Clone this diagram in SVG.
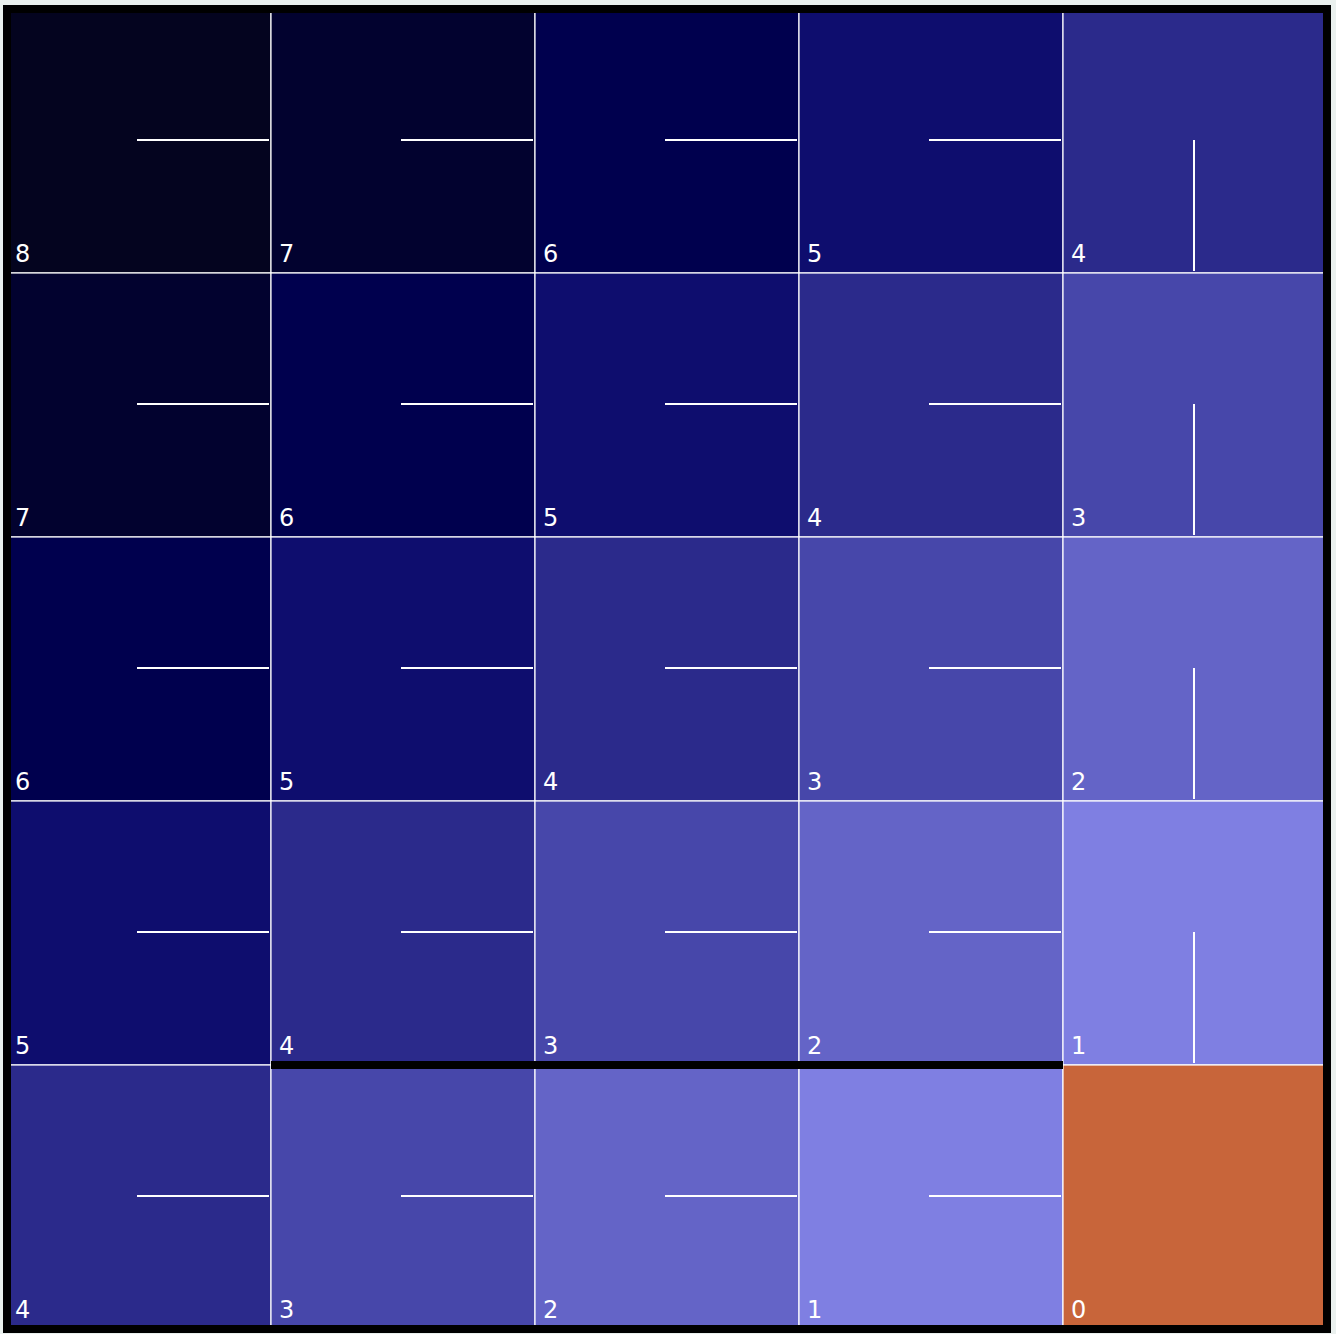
<svg xmlns="http://www.w3.org/2000/svg" width="1336" height="1334" viewBox="0 0 1336 1334">
<style>
.cell{stroke:#ffffff;stroke-width:1.2}
.pol{stroke:#ffffff;stroke-width:2;fill:none}
.lbl{font-family:"DejaVu Sans",sans-serif;font-size:24px;fill:#ffffff}
.d8{fill:#04041f}.d7{fill:#02022f}.d6{fill:#00004e}.d5{fill:#0e0d6e}.d4{fill:#2b2a8b}.d3{fill:#4747aa}.d2{fill:#6464c7}.d1{fill:#7f7fe2}.d0{fill:#c8653a}
</style>
<rect x="0" y="0" width="1336" height="1334" fill="#eaf0ee"/>
<g id="cells">
<g id="c00"><rect class="cell d8" x="7" y="9" width="264" height="264"/><text class="lbl" x="15" y="262">8</text></g>
<g id="c01"><rect class="cell d7" x="271" y="9" width="264" height="264"/><text class="lbl" x="279" y="262">7</text></g>
<g id="c02"><rect class="cell d6" x="535" y="9" width="264" height="264"/><text class="lbl" x="543" y="262">6</text></g>
<g id="c03"><rect class="cell d5" x="799" y="9" width="264" height="264"/><text class="lbl" x="807" y="262">5</text></g>
<g id="c04"><rect class="cell d4" x="1063" y="9" width="264" height="264"/><text class="lbl" x="1071" y="262">4</text></g>

<g id="c10"><rect class="cell d7" x="7" y="273" width="264" height="264"/><text class="lbl" x="15" y="526">7</text></g>
<g id="c11"><rect class="cell d6" x="271" y="273" width="264" height="264"/><text class="lbl" x="279" y="526">6</text></g>
<g id="c12"><rect class="cell d5" x="535" y="273" width="264" height="264"/><text class="lbl" x="543" y="526">5</text></g>
<g id="c13"><rect class="cell d4" x="799" y="273" width="264" height="264"/><text class="lbl" x="807" y="526">4</text></g>
<g id="c14"><rect class="cell d3" x="1063" y="273" width="264" height="264"/><text class="lbl" x="1071" y="526">3</text></g>

<g id="c20"><rect class="cell d6" x="7" y="537" width="264" height="264"/><text class="lbl" x="15" y="790">6</text></g>
<g id="c21"><rect class="cell d5" x="271" y="537" width="264" height="264"/><text class="lbl" x="279" y="790">5</text></g>
<g id="c22"><rect class="cell d4" x="535" y="537" width="264" height="264"/><text class="lbl" x="543" y="790">4</text></g>
<g id="c23"><rect class="cell d3" x="799" y="537" width="264" height="264"/><text class="lbl" x="807" y="790">3</text></g>
<g id="c24"><rect class="cell d2" x="1063" y="537" width="264" height="264"/><text class="lbl" x="1071" y="790">2</text></g>

<g id="c30"><rect class="cell d5" x="7" y="801" width="264" height="264"/><text class="lbl" x="15" y="1054">5</text></g>
<g id="c31"><rect class="cell d4" x="271" y="801" width="264" height="264"/><text class="lbl" x="279" y="1054">4</text></g>
<g id="c32"><rect class="cell d3" x="535" y="801" width="264" height="264"/><text class="lbl" x="543" y="1054">3</text></g>
<g id="c33"><rect class="cell d2" x="799" y="801" width="264" height="264"/><text class="lbl" x="807" y="1054">2</text></g>
<g id="c34"><rect class="cell d1" x="1063" y="801" width="264" height="264"/><text class="lbl" x="1071" y="1054">1</text></g>

<g id="c40"><rect class="cell d4" x="7" y="1065" width="264" height="264"/><text class="lbl" x="15" y="1318">4</text></g>
<g id="c41"><rect class="cell d3" x="271" y="1065" width="264" height="264"/><text class="lbl" x="279" y="1318">3</text></g>
<g id="c42"><rect class="cell d2" x="535" y="1065" width="264" height="264"/><text class="lbl" x="543" y="1318">2</text></g>
<g id="c43"><rect class="cell d1" x="799" y="1065" width="264" height="264"/><text class="lbl" x="807" y="1318">1</text></g>
<g id="c44"><rect class="cell d0" x="1063" y="1065" width="264" height="264"/><text class="lbl" x="1071" y="1318">0</text></g>
</g>
<g id="connectors">
<path class="pol" d="M137 140H269M401 140H533M665 140H797M929 140H1061M1194 140V271"/>
<path class="pol" d="M137 404H269M401 404H533M665 404H797M929 404H1061M1194 404V535"/>
<path class="pol" d="M137 668H269M401 668H533M665 668H797M929 668H1061M1194 668V799"/>
<path class="pol" d="M137 932H269M401 932H533M665 932H797M929 932H1061M1194 932V1063"/>
<path class="pol" d="M137 1196H269M401 1196H533M665 1196H797M929 1196H1061"/>
</g>
<g id="walls">
<line x1="271" y1="1065" x2="1063" y2="1065" stroke="#000000" stroke-width="8"/>
<rect x="7" y="9" width="1320" height="1320" fill="none" stroke="#000000" stroke-width="8"/>
</g>
</svg>
